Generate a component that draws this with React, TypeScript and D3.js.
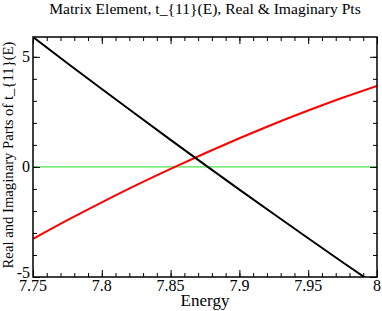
import React, { useEffect, useRef } from 'react';
import * as d3 from 'd3';

const energies = [7.75, 7.775, 7.8, 7.825, 7.85, 7.875, 7.9, 7.925, 7.95, 7.975, 8.0];
const realPart = [5.9, 4.71, 3.54, 2.38, 1.23, 0.09, -1.03, -2.14, -3.24, -4.33, -5.4];
const imagPart = [-3.27, -2.42, -1.61, -0.83, -0.09, 0.62, 1.3, 1.95, 2.56, 3.14, 3.68];
const xMajorTicks = [7.75, 7.8, 7.85, 7.9, 7.95, 8];
const xTickLabels = ['7.75', '7.8', '7.85', '7.9', '7.95', '8'];
const yMajorTicks = [-5, 0, 5];
const yTickLabels = ['-5', '0', '5'];

const App: React.FC = () => {
  const svgRef = useRef<SVGSVGElement>(null);
  const width = 382;
  const height = 311;

  useEffect(() => {
    if (!svgRef.current) return;
    const svg = d3.select(svgRef.current);
    svg.selectAll('*').remove();

    const margin = { top: 37, right: 5, bottom: 34, left: 33 };
    const w = width - margin.left - margin.right;
    const h = height - margin.top - margin.bottom;
    const font = '"Liberation Serif", "Times New Roman", serif';

    const x = d3.scaleLinear().domain([7.75, 8]).range([0, w]);
    const y = d3.scaleLinear().domain([-5, 5.9]).range([h, 0]);

    const g = svg.append('g').attr('transform', `translate(${margin.left},${margin.top})`);

    g.append('clipPath').attr('id', 'plot-clip')
      .append('rect').attr('width', w).attr('height', h);

    // zero line
    g.append('line')
      .attr('x1', 0).attr('x2', w)
      .attr('y1', y(0)).attr('y2', y(0))
      .attr('stroke', '#22dd22').attr('stroke-width', 1);

    const line = d3.line<number>()
      .x((_, i) => x(energies[i]))
      .y(d => y(d))
      .curve(d3.curveNatural);

    g.append('path').datum(imagPart)
      .attr('clip-path', 'url(#plot-clip)')
      .attr('fill', 'none').attr('stroke', '#ff0000').attr('stroke-width', 2)
      .attr('d', line);

    g.append('path').datum(realPart)
      .attr('clip-path', 'url(#plot-clip)')
      .attr('fill', 'none').attr('stroke', '#000').attr('stroke-width', 2)
      .attr('d', line);

    // inward ticks on all four sides
    const xMinor = d3.range(0, 26).map(i => 7.75 + i * 0.01);
    const yMinor = d3.range(-5, 6);
    const tickAxis = (axis: any) => axis.tickSizeOuter(0).tickFormat(() => '');

    const addXTicks = (vals: number[], len: number) => {
      g.append('g').attr('transform', `translate(0,${h})`)
        .call(tickAxis(d3.axisTop(x).tickValues(vals)).tickSizeInner(len));
      g.append('g')
        .call(tickAxis(d3.axisBottom(x).tickValues(vals)).tickSizeInner(len));
    };
    addXTicks(xMinor, 4);
    addXTicks(xMajorTicks, 7);

    const addYTicks = (vals: number[], len: number) => {
      g.append('g')
        .call(tickAxis(d3.axisRight(y).tickValues(vals)).tickSizeInner(len));
      g.append('g').attr('transform', `translate(${w},0)`)
        .call(tickAxis(d3.axisLeft(y).tickValues(vals)).tickSizeInner(len));
    };
    addYTicks(yMinor, 4);
    addYTicks(yMajorTicks, 7);

    g.selectAll('.domain').remove();
    g.selectAll('.tick line').attr('stroke', '#000').attr('stroke-width', 1);

    // frame
    g.append('rect')
      .attr('width', w).attr('height', h)
      .attr('fill', 'none').attr('stroke', '#000').attr('stroke-width', 1.5);

    // tick labels
    g.selectAll('.xlab').data(xMajorTicks).enter().append('text')
      .attr('x', d => x(d)).attr('y', h + 14)
      .attr('text-anchor', 'middle')
      .style('font-family', font).style('font-size', '16px')
      .text((_, i) => xTickLabels[i]);

    // the lowest label sits a little higher so it clears "7.75"
    g.selectAll('.ylab').data(yMajorTicks).enter().append('text')
      .attr('x', -3).attr('y', d => y(d) + (d === -5 ? 1 : 5))
      .attr('text-anchor', 'end')
      .style('font-family', font).style('font-size', '16px')
      .text((_, i) => yTickLabels[i]);

    // axis titles
    svg.append('text')
      .attr('x', margin.left + w / 2).attr('y', 306)
      .attr('text-anchor', 'middle')
      .style('font-family', font).style('font-size', '17px')
      .text('Energy');

    svg.append('text')
      .attr('transform', `translate(13,${margin.top + h / 2 - 2}) rotate(-90)`)
      .attr('text-anchor', 'middle')
      .style('font-family', font).style('font-size', '14.7px')
      .text('Real and Imaginary Parts of t_{11}(E)');

    svg.append('text')
      .attr('x', margin.left + w / 2).attr('y', 14)
      .attr('text-anchor', 'middle')
      .style('font-family', font).style('font-size', '15.6px')
      .text('Matrix Element, t_{11}(E), Real & Imaginary Pts');
  }, []);

  return (
    <div style={{ position: 'absolute', left: 0, top: 0 }}>
      <svg ref={svgRef} width={width} height={height} style={{ display: 'block', background: '#fff' }} />
    </div>
  );
};

export default App;
